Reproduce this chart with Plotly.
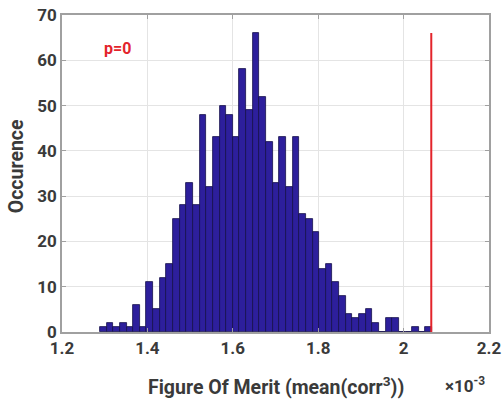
import plotly.graph_objects as go

# Histogram of figure of merit (units of 1e-3)
BIN_START = 1.2889
BIN_WIDTH = 0.015556
COUNTS = [1, 2, 1, 2, 1, 6, 1, 11, 5, 12,
          15, 25, 28, 33, 28, 48, 32, 43, 50, 48,
          43, 58, 49, 66, 52, 42, 33, 43, 32, 43,
          26, 25, 22, 14, 15, 11, 8, 4, 3, 4,
          5, 2, 0, 3, 3, 0, 0, 1, 0, 1]
OBSERVED = 2.0648
P_LABEL = "p=0"
X_TITLE = "Figure Of Merit (mean(corr<sup>3</sup>))"
Y_TITLE = "Occurence"
X_TICKS = [1.2, 1.4, 1.6, 1.8, 2.0, 2.2]
X_TICK_TEXT = ["1.2", "1.4", "1.6", "1.8", "2", "2.2"]
Y_TICKS = [0, 10, 20, 30, 40, 50, 60, 70]

centers = [BIN_START + BIN_WIDTH * (i + 0.5) for i in range(len(COUNTS))]

FONT = "Roboto"
TXT = "#3a3a3a"

fig = go.Figure()
fig.add_trace(go.Bar(
    x=centers, y=COUNTS, width=BIN_WIDTH,
    marker=dict(color="#2d1f9c", line=dict(color="#15104a", width=0.8)),
    hoverinfo="x+y", showlegend=False,
))
fig.add_trace(go.Scatter(
    x=[OBSERVED, OBSERVED], y=[0, max(COUNTS)], mode="lines",
    line=dict(color="#e3242b", width=2), showlegend=False,
))

fig.update_layout(
    width=503, height=400,
    margin=dict(l=62, r=13.5, t=15, b=68.3),
    paper_bgcolor="white", plot_bgcolor="white",
    bargap=0,
    font=dict(family=FONT, size=16, color=TXT),
    xaxis=dict(
        range=[1.2, 2.2], tickvals=X_TICKS, ticktext=X_TICK_TEXT,
        showgrid=True, gridcolor="#e4e4e4", gridwidth=1,
        showline=True, linecolor="#a0a0a0", linewidth=1.5, mirror="ticks",
        ticks="inside", ticklen=4, tickcolor="#a0a0a0",
        tickfont=dict(family=FONT, size=17, color=TXT, weight="bold"),
        automargin=False, zeroline=False, ticklabeloverflow="allow",
    ),
    yaxis=dict(
        range=[0, 70], tickvals=Y_TICKS,
        showgrid=True, gridcolor="#e4e4e4", gridwidth=1,
        showline=True, linecolor="#a0a0a0", linewidth=1.5, mirror="ticks",
        ticks="inside", ticklen=4, tickcolor="#a0a0a0",
        tickfont=dict(family=FONT, size=17, color=TXT, weight="bold"),
        automargin=False, zeroline=False, ticklabeloverflow="allow",
    ),
    annotations=[
        dict(text=P_LABEL, x=1.329, y=62.6, xref="x", yref="y", showarrow=False,
             font=dict(family=FONT, size=16, color="#e3242b", weight="bold")),
        dict(text=X_TITLE, x=0.5, y=-0.171, xref="paper", yref="paper",
             showarrow=False, xanchor="center", yanchor="middle",
             font=dict(family=FONT, size=19.5, color=TXT, weight="bold")),
        dict(text=Y_TITLE, x=-0.1076, y=0.523, xref="paper", yref="paper",
             textangle=-90, showarrow=False, xanchor="center", yanchor="middle",
             font=dict(family=FONT, size=19.5, color=TXT, weight="bold")),
        dict(text="×10<sup>-3</sup>", x=0.943, y=-0.168, xref="paper", yref="paper",
             showarrow=False, xanchor="center", yanchor="middle",
             font=dict(family=FONT, size=17, color=TXT, weight="bold")),
    ],
)

# remove the page's default body margin so the figure sits at the window origin
fig.write_html("out.html", config={"displayModeBar": False},
               post_script="document.body.style.margin='0';")
